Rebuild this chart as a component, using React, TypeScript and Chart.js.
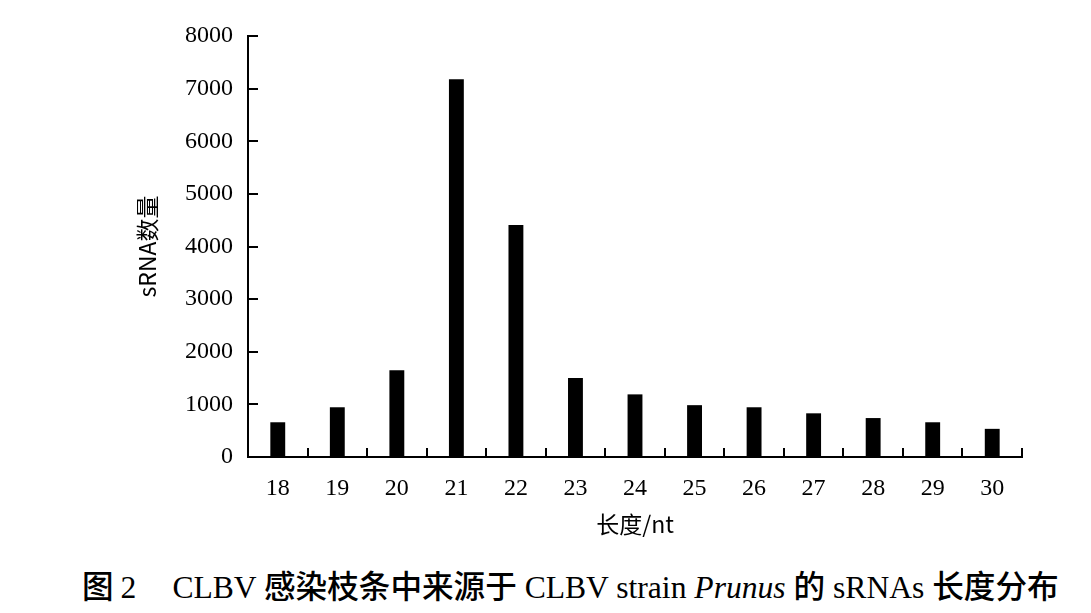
import React, { useEffect, useRef } from "react";
import { Chart, registerables } from "chart.js";

Chart.register(...registerables);

const categories = ["18", "19", "20", "21", "22", "23", "24", "25", "26", "27", "28", "29", "30"];
const counts = [660, 945, 1650, 7180, 4410, 1500, 1190, 985, 945, 830, 740, 660, 535];
const yTickMax = 8000;
const yTickStep = 1000;
const yTitle = "sRNA数量";
const xTitle = "长度/nt";

const innerTicks = {
  id: "innerTicks",
  afterDraw(chart: any) {
    const ctx = chart.ctx;
    const area = chart.chartArea;
    const x = chart.scales.x;
    const y = chart.scales.y;
    ctx.save();
    ctx.strokeStyle = "#000";
    ctx.lineWidth = 2;
    ctx.beginPath();
    y.ticks.forEach((t: any) => {
      const py = Math.round(y.getPixelForValue(t.value));
      if (t.value === 0) return;
      ctx.moveTo(area.left, py);
      ctx.lineTo(area.left + 10, py);
    });
    const n = categories.length;
    for (let i = 1; i <= n; i++) {
      let px: number;
      if (i < n) {
        px = (x.getPixelForValue(i - 1) + x.getPixelForValue(i)) / 2;
      } else {
        px = x.getPixelForValue(n - 1) + (x.getPixelForValue(n - 1) - x.getPixelForValue(n - 2)) / 2;
      }
      px = Math.round(px);
      ctx.moveTo(px, area.bottom);
      ctx.lineTo(px, area.bottom - 9);
    }
    ctx.stroke();
    ctx.restore();
  },
};

export default function App() {
  const ref = useRef<HTMLCanvasElement | null>(null);
  useEffect(() => {
    if (!ref.current) return;
    const chart = new Chart(ref.current, {
      type: "bar",
      data: {
        labels: categories,
        datasets: [
          {
            data: counts,
            backgroundColor: "#000",
            borderWidth: 0,
            barPercentage: 0.25,
            categoryPercentage: 1,
          },
        ],
      },
      options: {
        animation: false,
        responsive: false,
        maintainAspectRatio: false,
        devicePixelRatio: 1,
        layout: { padding: { left: 128, top: 36, right: 69, bottom: 0 } },
        plugins: { legend: { display: false }, tooltip: { enabled: false } },
        scales: {
          x: {
            afterFit: (s: any) => {
              s.height = 88;
            },
            grid: { drawOnChartArea: false, drawTicks: false },
            border: { display: true, color: "#000", width: 2 },
            ticks: {
              color: "#000",
              padding: 17,
              font: { family: "'Liberation Serif', serif", size: 24 },
              maxRotation: 0,
            },
            title: {
              display: true,
              text: xTitle,
              color: "#000",
              font: { family: "'Noto Sans CJK SC', sans-serif", size: 23 },
              padding: { top: 0, bottom: 7 },
            },
          },
          y: {
            min: 0,
            max: yTickMax,
            afterFit: (s: any) => {
              s.width = 120;
            },
            grid: { drawOnChartArea: false, drawTicks: false },
            border: { display: true, color: "#000", width: 2 },
            ticks: {
              stepSize: yTickStep,
              color: "#000",
              padding: 15,
              font: { family: "'Liberation Serif', serif", size: 24 },
              callback: (v: any) => String(v),
            },
            title: {
              display: true,
              text: yTitle,
              color: "#000",
              font: { family: "'Noto Sans CJK SC', sans-serif", size: 23 },
              padding: { top: 5, bottom: 0 },
            },
          },
        },
      },
      plugins: [innerTicks],
    });
    return () => chart.destroy();
  }, []);

  const cjk: React.CSSProperties = {
    fontFamily: "'Noto Sans CJK SC', sans-serif",
    fontWeight: 500,
  };
  const lat: React.CSSProperties = {
    fontFamily: "'Liberation Serif', serif",
    fontWeight: 400,
  };

  return (
    <div style={{ position: "absolute", left: 0, top: 0, width: 1091, height: 613, background: "#fff", overflow: "hidden" }}>
      <canvas ref={ref} width={1091} height={545} style={{ position: "absolute", left: 0, top: 0, width: 1091, height: 545 }} />
      <div
        style={{
          position: "absolute",
          left: 82,
          top: 563,
          fontSize: 31.6,
          lineHeight: "42px",
          whiteSpace: "nowrap",
          color: "#000",
        }}
      >
        <span style={cjk}>图</span>
        <span style={{ ...lat, marginLeft: 7 }}>2</span>
        <span style={{ ...lat, marginLeft: 36 }}>CLBV </span>
        <span style={cjk}>感染枝条中来源于</span>
        <span style={lat}> CLBV strain </span>
        <span style={{ ...lat, fontStyle: "italic" }}>Prunus</span>
        <span style={lat}> </span>
        <span style={cjk}>的</span>
        <span style={lat}> sRNAs </span>
        <span style={cjk}>长度分布</span>
      </div>
    </div>
  );
}
